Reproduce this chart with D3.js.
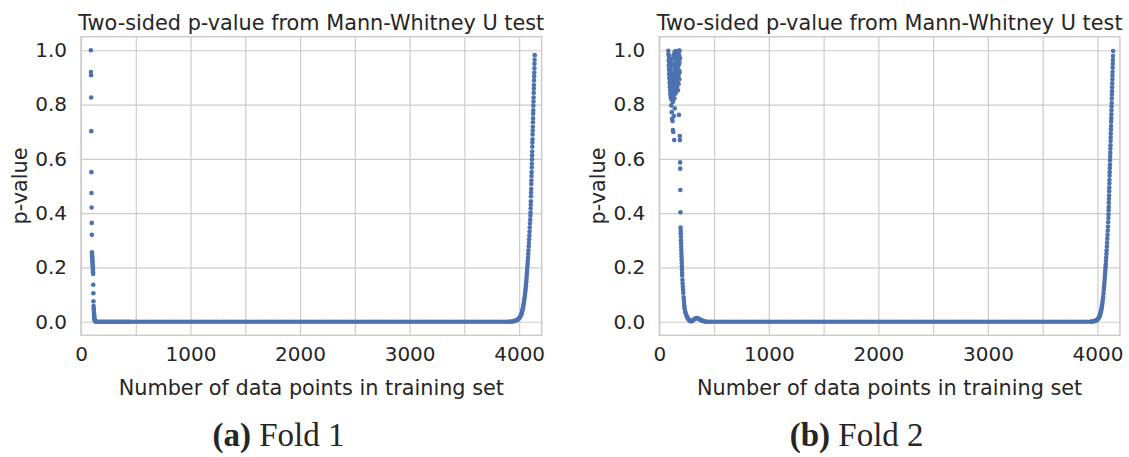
<!DOCTYPE html>
<html lang="en">

<head>
    <meta charset="UTF-8">
    <title>Mann-Whitney U p-values</title>
    <style>
        body { margin: 0; background: #fff; }
        text { fill: #262626; }
    </style>
</head>

<body>
    <svg id="chart" width="1129" height="457"></svg>
    <script src="https://cdn.jsdelivr.net/npm/d3@7"></script>
    <script>
        // ---- data ----
        const chartTitle = "Two-sided p-value from Mann-Whitney U test";
        const xLabel = "Number of data points in training set";
        const yLabel = "p-value";
        const xTicks = [0, 1000, 2000, 3000, 4000];
        const xGrid = [0, 500, 1000, 1500, 2000, 2500, 3000, 3500, 4000];
        const yTicks = [0.0, 0.2, 0.4, 0.6, 0.8, 1.0];
        const captionTags = ["(a)", "(b)"];
        const captionNames = ["Fold 1", "Fold 2"];

        // fold 1: early spike, then the rise at the end
        const fold1Sizes = [90, 91, 92, 93, 94, 95, 96, 97, 98, 99, 100, 101, 102, 103, 104, 105, 106, 107, 108, 109,
            110, 111, 112, 113, 114, 115, 116, 117, 118, 119, 120, 121, 122, 123, 125, 127, 130, 134,
            140, 155, 170, 185, 200, 215, 230, 245, 260, 275, 290, 305, 320, 335, 350, 365, 380, 395, 410, 425, 440,
            3910, 3925, 3938, 3950, 3960, 3968, 3976, 3983, 3990, 3996, 4002, 4007, 4012, 4016, 4020, 4024, 4028, 4031,
            4034, 4037, 4040, 4043, 4046, 4049, 4052, 4055, 4057, 4059, 4061, 4063, 4065, 4067, 4069, 4071, 4073, 4075,
            4077, 4079, 4081, 4083, 4085, 4087, 4089, 4091, 4093, 4095, 4097, 4099, 4101, 4103,
            4104, 4105, 4106, 4107, 4108, 4109, 4110, 4111, 4112, 4113, 4114, 4115, 4116, 4117, 4118, 4119, 4120, 4121,
            4122, 4123, 4124, 4125, 4126, 4127, 4128, 4129, 4130, 4131, 4132, 4133, 4134, 4135, 4136, 4137, 4138, 4139,
            4140, 4141, 4142];
        const fold1PValues = [1.000, 0.920, 0.908, 0.826, 0.702, 0.551, 0.474, 0.421, 0.364, 0.320, 0.256, 0.249, 0.241, 0.234, 0.226, 0.219, 0.212, 0.204, 0.197, 0.189,
            0.182, 0.176, 0.136, 0.105, 0.075, 0.058, 0.050, 0.043, 0.036, 0.030, 0.024, 0.018, 0.013, 0.009, 0.006, 0.004, 0.002, 0.001,
            0.001, 0.000, 0.000, 0.000, 0.000, 0.000, 0.000, 0.000, 0.000, 0.000, 0.000, 0.000, 0.000, 0.000, 0.000, 0.000, 0.000, 0.000, 0.000, 0.000, 0.000,
            0.000, 0.001, 0.001, 0.002, 0.003, 0.004, 0.005, 0.007, 0.009, 0.011, 0.014, 0.017, 0.020, 0.024, 0.028, 0.033, 0.038, 0.044,
            0.050, 0.056, 0.063, 0.070, 0.078, 0.087, 0.096, 0.106, 0.114, 0.122, 0.131, 0.140, 0.149, 0.159, 0.169, 0.180, 0.191, 0.202,
            0.213, 0.225, 0.237, 0.250, 0.263, 0.277, 0.290, 0.304, 0.318, 0.332, 0.347, 0.362, 0.376, 0.391,
            0.402, 0.417, 0.431, 0.444, 0.462, 0.476, 0.489, 0.507, 0.520, 0.537, 0.551, 0.568, 0.582, 0.598, 0.613, 0.627, 0.645, 0.660,
            0.672, 0.690, 0.704, 0.718, 0.735, 0.749, 0.766, 0.779, 0.796, 0.811, 0.826, 0.843, 0.858, 0.872, 0.889, 0.904, 0.918, 0.934,
            0.950, 0.965, 0.982];

        // fold 2: noisy cluster near 1, slide down with a small bump, then the rise
        const fold2Sizes = [82, 84, 86, 87, 88, 89, 90, 91, 92, 93, 94, 95, 96, 97, 98, 99, 100, 101, 102, 103,
            104, 105, 106, 107, 108, 109, 110, 111, 112, 113, 114, 115, 116, 117, 118, 119, 120, 121, 122, 123,
            124, 125, 126, 127, 128, 129, 130, 131, 132, 133, 134, 135, 136, 137, 138, 139, 140, 141, 142, 143,
            144, 145, 146, 147, 148, 149, 150, 151, 152, 153, 154, 155, 156, 157, 158, 159, 160, 161, 162, 163,
            164, 165, 166, 167, 168, 169, 170, 171, 172, 173, 174, 175, 176, 177, 178, 179, 180, 181, 182, 183,
            184, 185, 186, 187, 188, 189, 190, 191, 192, 193,
            194, 195, 196, 197, 198, 199, 200, 201, 202, 203, 204, 205, 206, 207, 208, 209, 211, 213, 215, 217,
            219, 222, 224, 226, 228, 230, 233, 237, 241, 246, 251, 256, 262, 268, 274, 281, 288, 296, 304, 311,
            318, 325, 332, 340, 348, 356, 364, 372, 380, 390, 400, 410, 420, 432,
            3930, 3945, 3958, 3968, 3977, 3985, 3992, 3998, 4004, 4009, 4014, 4019, 4023, 4027, 4031, 4034, 4037, 4040,
            4043, 4046, 4049, 4052, 4055, 4058, 4060, 4062, 4064, 4066, 4068, 4070, 4072, 4074, 4076, 4078, 4080, 4082,
            4084, 4086, 4088, 4090, 4092, 4094, 4096, 4098, 4100,
            4101, 4102, 4103, 4104, 4105, 4106, 4107, 4108, 4109, 4110, 4111, 4112, 4113, 4114, 4115, 4116, 4117, 4118,
            4119, 4120, 4121, 4122, 4123, 4124, 4125, 4126, 4127, 4128, 4129, 4130, 4131, 4132, 4133, 4134, 4135, 4136,
            4137, 4138, 4139, 4140, 4141, 4142, 4143];
        const fold2PValues = [0.998, 0.985, 0.962, 0.944, 0.975, 0.930, 0.912, 0.955, 0.897, 0.938, 0.880, 0.921, 0.866, 0.948, 0.905, 0.852, 0.890, 0.838, 0.927, 0.872,
            0.826, 0.960, 0.859, 0.912, 0.845, 0.797, 0.883, 0.940, 0.818, 0.868, 0.772, 0.902, 0.851, 0.748, 0.969, 0.834, 0.886, 0.739, 0.915, 0.860,
            0.706, 0.810, 0.945, 0.873, 0.699, 0.832, 0.982, 0.893, 0.843, 0.758, 0.918, 0.866, 0.669, 0.951, 0.822, 0.884, 0.994, 0.786, 0.930, 0.856,
            0.971, 0.906, 0.840, 0.988, 0.877, 0.947, 0.918, 0.862, 0.997, 0.935, 0.889, 0.963, 0.848, 0.912, 0.985, 0.878, 0.943, 0.925, 0.864, 0.990,
            0.901, 0.956, 0.935, 0.880, 0.976, 0.918, 0.853, 0.995, 0.940, 0.895, 0.965, 0.908, 0.986, 0.876, 0.948, 0.762, 0.999, 0.925, 0.980, 0.893,
            0.955, 0.998, 0.918, 0.684, 0.669, 0.970, 0.587, 0.564, 0.485, 0.403,
            0.347, 0.336, 0.326, 0.314, 0.300, 0.288, 0.276, 0.264, 0.252, 0.240, 0.228, 0.216, 0.204, 0.192, 0.180, 0.170, 0.154, 0.142, 0.130, 0.118,
            0.106, 0.090, 0.080, 0.070, 0.060, 0.052, 0.044, 0.037, 0.031, 0.025, 0.020, 0.016, 0.011, 0.008, 0.005, 0.003, 0.002, 0.002, 0.004, 0.006,
            0.009, 0.011, 0.013, 0.014, 0.013, 0.012, 0.010, 0.008, 0.006, 0.004, 0.003, 0.002, 0.001, 0.000,
            0.000, 0.001, 0.001, 0.002, 0.003, 0.004, 0.006, 0.007, 0.010, 0.013, 0.016, 0.020, 0.025, 0.030, 0.036, 0.042, 0.048, 0.055,
            0.063, 0.072, 0.082, 0.092, 0.104, 0.117, 0.126, 0.136, 0.146, 0.157, 0.168, 0.179, 0.190, 0.201, 0.212, 0.224, 0.237, 0.250,
            0.263, 0.277, 0.291, 0.306, 0.320, 0.335, 0.350, 0.366, 0.382,
            0.396, 0.411, 0.423, 0.438, 0.452, 0.465, 0.481, 0.494, 0.509, 0.522, 0.538, 0.551, 0.566, 0.579, 0.595, 0.608, 0.622, 0.637,
            0.650, 0.666, 0.679, 0.694, 0.708, 0.721, 0.737, 0.750, 0.764, 0.779, 0.793, 0.806, 0.822, 0.836, 0.849, 0.864, 0.878, 0.893,
            0.907, 0.920, 0.936, 0.950, 0.964, 0.979, 0.997];

        // long flat stretch where p is ~0 in both folds
        const flatSizes = [450, 475, 500, 525, 550, 575, 600, 625, 650, 675, 700, 725, 750, 775, 800, 825, 850, 875, 900, 925,
            950, 975, 1000, 1025, 1050, 1075, 1100, 1125, 1150, 1175, 1200, 1225, 1250, 1275, 1300, 1325, 1350, 1375, 1400, 1425,
            1450, 1475, 1500, 1525, 1550, 1575, 1600, 1625, 1650, 1675, 1700, 1725, 1750, 1775, 1800, 1825, 1850, 1875, 1900, 1925,
            1950, 1975, 2000, 2025, 2050, 2075, 2100, 2125, 2150, 2175, 2200, 2225, 2250, 2275, 2300, 2325, 2350, 2375, 2400, 2425,
            2450, 2475, 2500, 2525, 2550, 2575, 2600, 2625, 2650, 2675, 2700, 2725, 2750, 2775, 2800, 2825, 2850, 2875, 2900, 2925,
            2950, 2975, 3000, 3025, 3050, 3075, 3100, 3125, 3150, 3175, 3200, 3225, 3250, 3275, 3300, 3325, 3350, 3375, 3400, 3425,
            3450, 3475, 3500, 3525, 3550, 3575, 3600, 3625, 3650, 3675, 3700, 3725, 3750, 3775, 3800, 3825, 3850, 3875, 3900];
        const flatPValue = 0.0;
    </script>
    <script>
        var svg = d3.select("#chart");
        svg.append("rect").attr("width", 1129).attr("height", 457).attr("fill", "#fff");

        var font = "'DejaVu Sans', sans-serif";
        var gridColor = "#cccccc";
        var dotColor = "#4c72b0";

        var panels = [
            { left: 81, right: 541.6, capX: 278.5, sizes: fold1Sizes, pvals: fold1PValues },
            { left: 659.3, right: 1119.9, capX: 856.7, sizes: fold2Sizes, pvals: fold2PValues }
        ];
        var plotTop = 36.7, plotBottom = 335.3;

        var y = d3.scaleLinear().domain([-0.05, 1.05]).range([plotBottom, plotTop]);

        panels.forEach(function (p, i) {
            var x = d3.scaleLinear().domain([0, 4205]).range([p.left, p.right]);
            var g = svg.append("g");

            // grid
            g.append("g")
                .attr("transform", "translate(0," + plotBottom + ")")
                .call(d3.axisBottom(x).tickValues(xGrid).tickSize(-(plotBottom - plotTop)).tickFormat(""))
                .call(function (a) {
                    a.select(".domain").remove();
                    a.selectAll("line").attr("stroke", gridColor).attr("stroke-width", 1.2);
                });
            g.append("g")
                .attr("transform", "translate(" + p.left + ",0)")
                .call(d3.axisLeft(y).tickValues(yTicks).tickSize(-(p.right - p.left)).tickFormat(""))
                .call(function (a) {
                    a.select(".domain").remove();
                    a.selectAll("line").attr("stroke", gridColor).attr("stroke-width", 1.2);
                });

            // frame
            g.append("rect")
                .attr("x", p.left).attr("y", plotTop)
                .attr("width", p.right - p.left).attr("height", plotBottom - plotTop)
                .attr("fill", "none").attr("stroke", gridColor).attr("stroke-width", 1.5);

            // tick labels
            g.append("g")
                .attr("transform", "translate(0," + plotBottom + ")")
                .call(d3.axisBottom(x).tickValues(xTicks).tickSize(0).tickPadding(12).tickFormat(d3.format("d")))
                .call(function (a) {
                    a.select(".domain").remove();
                    a.selectAll("text").attr("font-family", font).attr("font-size", 20).attr("fill", "#262626");
                });
            g.append("g")
                .attr("transform", "translate(" + p.left + ",0)")
                .call(d3.axisLeft(y).tickValues(yTicks).tickSize(0).tickPadding(14).tickFormat(d3.format(".1f")))
                .call(function (a) {
                    a.select(".domain").remove();
                    a.selectAll("text").attr("font-family", font).attr("font-size", 20).attr("fill", "#262626");
                });

            // titles and labels
            var cx = (p.left + p.right) / 2;
            g.append("text").attr("x", cx).attr("y", 30)
                .attr("text-anchor", "middle").attr("font-family", font).attr("font-size", 20.8)
                .text(chartTitle);
            g.append("text").attr("x", cx).attr("y", 395)
                .attr("text-anchor", "middle").attr("font-family", font).attr("font-size", 20.8)
                .text(xLabel);
            g.append("text")
                .attr("transform", "translate(" + (p.left - 54) + "," + ((plotTop + plotBottom) / 2) + ") rotate(-90)")
                .attr("text-anchor", "middle").attr("font-family", font).attr("font-size", 20.8)
                .text(yLabel);

            // points
            var pts = p.sizes.map(function (n, k) { return [n, p.pvals[k]]; })
                .concat(flatSizes.map(function (n) { return [n, flatPValue]; }));
            g.append("g").selectAll("circle")
                .data(pts)
                .enter()
                .append("circle")
                .attr("cx", function (d) { return x(d[0]); })
                .attr("cy", function (d) { return y(d[1]); })
                .attr("r", 2.3)
                .attr("fill", dotColor);

            // subfigure caption
            var cap = svg.append("text").attr("x", p.capX).attr("y", 446)
                .attr("text-anchor", "middle").attr("font-family", "'Liberation Serif', serif").attr("font-size", 33);
            cap.append("tspan").attr("font-weight", "bold").text(captionTags[i]);
            cap.append("tspan").text(" " + captionNames[i]);
        });
    </script>
</body>

</html>
